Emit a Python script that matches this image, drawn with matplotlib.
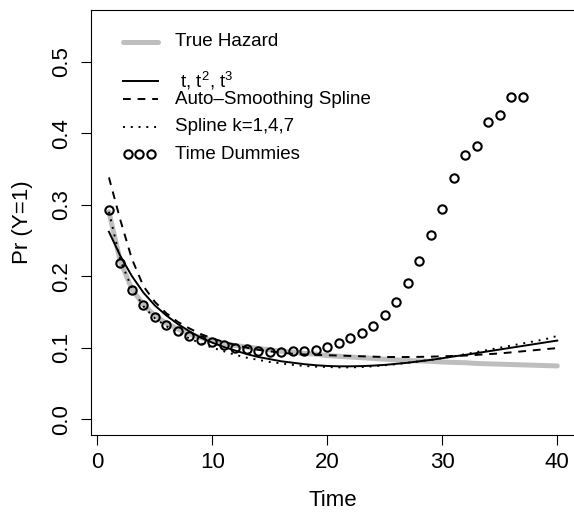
import numpy as np
import matplotlib

matplotlib.use("Agg")
import matplotlib.pyplot as plt  # noqa: E402

plt.rcParams["font.family"] = ["Liberation Sans", "DejaVu Sans"]

time = np.arange(1, 41)
dummy_time = np.arange(1, 38)

true_hazard = [0.290, 0.220, 0.182, 0.160, 0.145, 0.134, 0.126, 0.119, 0.114, 0.110,
               0.106, 0.103, 0.101, 0.099, 0.097, 0.095, 0.094, 0.092, 0.091, 0.089,
               0.088, 0.087, 0.086, 0.085, 0.084, 0.083, 0.082, 0.0815, 0.081, 0.080,
               0.0795, 0.079, 0.078, 0.0775, 0.077, 0.0765, 0.076, 0.0755, 0.075, 0.0745]

cubic = [0.262, 0.228, 0.200, 0.177, 0.159, 0.145, 0.133, 0.123, 0.114, 0.107,
         0.101, 0.096, 0.091, 0.087, 0.084, 0.081, 0.079, 0.077, 0.0755, 0.0745,
         0.074, 0.074, 0.0743, 0.075, 0.076, 0.0775, 0.079, 0.081, 0.083, 0.0853,
         0.0878, 0.090, 0.0925, 0.095, 0.0975, 0.100, 0.1025, 0.105, 0.1075, 0.110]

auto_spline = [0.338, 0.278, 0.224, 0.186, 0.164, 0.148, 0.136, 0.127, 0.119, 0.113,
               0.108, 0.104, 0.100, 0.097, 0.095, 0.093, 0.0915, 0.0905, 0.090, 0.0895,
               0.089, 0.0885, 0.088, 0.0875, 0.087, 0.087, 0.087, 0.0872, 0.0875, 0.088,
               0.0885, 0.089, 0.090, 0.091, 0.092, 0.0935, 0.095, 0.0965, 0.098, 0.0995]

spline_k147 = [0.290, 0.222, 0.183, 0.158, 0.141, 0.130, 0.121, 0.113, 0.106, 0.100,
               0.095, 0.090, 0.086, 0.083, 0.080, 0.078, 0.076, 0.0745, 0.0735, 0.073,
               0.0725, 0.0725, 0.073, 0.074, 0.0755, 0.077, 0.079, 0.081, 0.083, 0.0855,
               0.088, 0.091, 0.094, 0.097, 0.100, 0.103, 0.106, 0.109, 0.112, 0.1165]

time_dummies = [0.292, 0.218, 0.181, 0.159, 0.143, 0.132, 0.1235, 0.117, 0.1105, 0.1077,
                0.104, 0.100, 0.098, 0.096, 0.094, 0.0946, 0.0955, 0.096, 0.0965, 0.1007,
                0.106, 0.113, 0.120, 0.1305, 0.146, 0.1645, 0.190, 0.221, 0.257, 0.294,
                0.3375, 0.3687, 0.3818, 0.4154, 0.4252, 0.4508, 0.4508]

legend_labels = ["True Hazard", r" t, t$^\mathregular{2}$, t$^\mathregular{3}$",
                 "Auto\u2013Smoothing Spline", "Spline k=1,4,7", "Time Dummies"]

GRAY = "#BEBEBE"
LW = 1.4
W, H = 574, 512

fig = plt.figure(figsize=(W / 100, H / 100), dpi=100)
ax = fig.add_axes([91 / W, 77 / H, 484.2 / W, 425 / H])

ax.plot(time, true_hazard, color=GRAY, lw=3.6, solid_capstyle="round", zorder=1)
ax.plot(time, cubic, color="black", lw=LW, zorder=2)
ax.plot(time, auto_spline, color="black", lw=LW, dashes=(4, 3.5), zorder=2)
ax.plot(time, spline_k147, color="black", lw=LW, dashes=(1, 3), zorder=2)
ax.plot(dummy_time, time_dummies, ls="none", marker="o", ms=6, mfc="none",
        mec="black", mew=1.5, zorder=3)

ax.set_xlim(-0.56, 41.56)
ax.set_ylim(-0.022, 0.572)
ax.set_xticks([0, 10, 20, 30, 40])
ax.set_yticks([0.0, 0.1, 0.2, 0.3, 0.4, 0.5])
ax.set_xticklabels(["0", "10", "20", "30", "40"], fontsize=16, va="center")
ax.set_yticklabels(["0.0", "0.1", "0.2", "0.3", "0.4", "0.5"], fontsize=16,
                   rotation=90, va="center", ha="center")
ax.tick_params(axis="x", direction="out", length=7.2, width=0.8, pad=12.5)
ax.tick_params(axis="y", direction="out", length=7.2, width=0.8, pad=14)
for s in ax.spines.values():
    s.set_linewidth(0.8)

ax.set_xlabel("Time", fontsize=16, va="center")
ax.xaxis.set_label_coords(0.5, (435 - 500) / 425)
ax.set_ylabel("Pr (Y=1)", fontsize=16, va="center")
ax.yaxis.set_label_coords((22 - 91) / 484.2, 0.5)


# legend drawn by hand so the row spacing follows the original
def ax_xy(px, py):
    return (px - 91) / 484.2, (435 - py) / 425


rows_y = [41.7, 81, 99.3, 126.7, 154.3]
styles = [dict(color=GRAY, lw=3.6, solid_capstyle="round"),
          dict(color="black", lw=LW),
          dict(color="black", lw=LW, dashes=(4, 3.5)),
          dict(color="black", lw=LW, dashes=(1, 3))]
for label, py, st in zip(legend_labels, rows_y, styles + [None]):
    x0, y0 = ax_xy(123, py)
    x1, _ = ax_xy(158, py)
    if st is not None:
        ax.plot([x0, x1], [y0, y0], transform=ax.transAxes, **st)
    else:
        xs = [ax_xy(px, py)[0] for px in (127.5, 139, 150.5)]
        ax.plot(xs, [y0] * 3, transform=ax.transAxes, ls="none", marker="o",
                ms=6, mfc="none", mec="black", mew=1.5)
    tx, ty = ax_xy(175, py)
    ax.text(tx, ty, label, transform=ax.transAxes, fontsize=13.5,
            va="center", ha="left")

fig.savefig("out.png", dpi=100)
